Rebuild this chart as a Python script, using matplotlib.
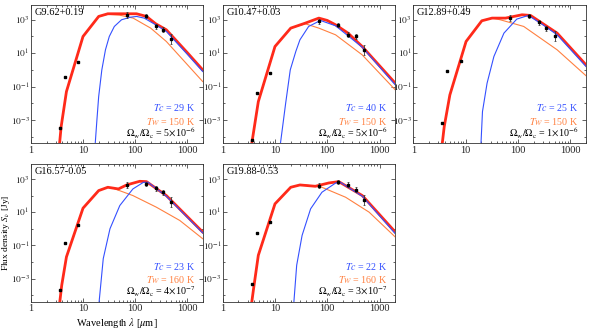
import matplotlib
matplotlib.use("Agg")
import matplotlib.pyplot as plt
import numpy as np
from matplotlib.ticker import FixedLocator, FixedFormatter, LogLocator, NullFormatter

plt.rcParams['font.family'] = ['Liberation Serif', 'DejaVu Serif']
plt.rcParams['mathtext.fontset'] = 'stix'

# Sources and fit parameters
names = ["G9.62+0.19", "G10.47+0.03", "G12.89+0.49", "G16.57-0.05", "G19.88-0.53"]
t_cold = [29, 40, 25, 23, 22]
t_warm = [150, 150, 150, 160, 160]
ratio_mant = [5, 5, 1, 4, 3]
ratio_exp = [-6, -6, -6, -7, -7]

# Observed photometry (wavelength in um, log10 flux in Jy)
obs_lam = [3.6, 4.5, 8.0, 70, 160, 250, 350, 500]
obs_err = [0.05, 0.05, 0.05, 0.17, 0.12, 0.15, 0.15, 0.3]  # dex
obs_log = [
    [-3.46, -0.44, 0.46, 3.3, 3.24, 2.6, 2.4, 1.84],
    [-4.2, -1.36, -0.16, 2.9, 2.7, 2.1, 2.0, 1.2],
    [-3.16, -0.06, 0.54, 3.1, 3.2, 2.84, 2.5, 2.04],
    [-3.7, -0.84, 0.24, 2.64, 2.7, 2.44, 2.2, 1.6],
    [-3.36, -0.24, 0.4, 2.6, 2.84, 2.64, 2.36, 1.76],
]

# Total model (red)
tot_lam = [
    [3.4, 3.8, 4.8, 10, 20, 30, 60, 107, 166, 250, 400, 1000, 2000],
    [3.4, 4.8, 10, 20, 38, 69, 100, 144, 250, 465, 2000],
    [3.4, 3.9, 5.0, 10.2, 20.4, 32, 58, 120, 174, 562, 2000],
    [3.4, 3.9, 4.8, 10, 20, 30, 48, 69, 123, 166, 400, 2000],
    [3.4, 3.9, 4.8, 10, 20, 30, 59, 107, 166, 468, 2000],
]
tot_log = [
    [-5.0, -3.4, -1.3, 2.0, 3.2, 3.36, 3.36, 3.36, 3.2, 2.76, 2.4, 1.05, 0.0],
    [-4.9, -1.9, 1.4, 2.5, 2.8, 3.1, 2.96, 2.7, 2.2, 1.4, -0.8],
    [-5.0, -3.4, -1.5, 1.7, 2.94, 3.1, 3.1, 3.3, 3.26, 2.2, 0.3],
    [-5.0, -3.4, -1.7, 1.24, 2.3, 2.5, 2.4, 2.64, 2.86, 2.84, 2.0, -0.2],
    [-5.0, -3.6, -1.6, 1.5, 2.5, 2.64, 2.56, 2.76, 2.84, 2.0, -0.2],
]

# Cold component (blue)
cold_lam = [
    [17, 18.5, 20, 23, 27, 32, 40, 55, 80, 107, 150, 250, 400, 1000, 2000],
    [12.6, 14, 16, 19.6, 25, 30, 44, 74, 144, 465, 2000],
    [19.6, 21, 25.7, 34.7, 54, 95, 158, 300, 562, 2000],
    [20.4, 24.5, 33, 51, 91, 145, 178, 400, 2000],
    [23, 26, 33, 48, 79, 145, 178, 468, 2000],
]
cold_log = [
    [-4.6, -3.0, -1.6, 0.0, 1.2, 2.0, 2.6, 3.0, 3.15, 3.2, 3.1, 2.7, 2.3, 0.95, -0.1],
    [-4.5, -3.4, -2.0, 0.0, 1.1, 1.8, 2.6, 2.96, 2.64, 1.36, -0.9],
    [-4.5, -2.5, -0.8, 0.8, 2.2, 3.04, 3.26, 2.7, 2.1, 0.2],
    [-4.4, -1.8, 0.0, 1.4, 2.4, 2.8, 2.8, 1.96, -0.25],
    [-4.4, -2.2, -0.4, 1.2, 2.2, 2.76, 2.8, 1.96, -0.3],
]

# Warm component (orange)
warm_lam = [
    [3.4, 3.8, 4.8, 10, 20, 30, 50, 92, 200, 400, 2000],
    [3.4, 4.8, 10, 20, 38, 69, 144, 465, 2000],
    [3.4, 3.9, 5.0, 10.2, 20.4, 32, 46, 129, 562, 2000],
    [3.4, 3.9, 4.8, 10, 20, 30, 38, 91, 257, 724, 2000],
    [3.4, 3.9, 4.8, 10, 20, 30, 38, 79, 224, 631, 2000],
]
warm_log = [
    [-5.0, -3.4, -1.3, 2.0, 3.2, 3.33, 3.28, 3.1, 2.5, 1.7, -0.7],
    [-4.9, -1.9, 1.4, 2.5, 2.76, 2.5, 2.1, 0.9, -1.2],
    [-5.0, -3.4, -1.5, 1.7, 2.94, 3.1, 3.0, 2.6, 1.2, -0.35],
    [-5.0, -3.4, -1.7, 1.24, 2.3, 2.5, 2.44, 2.0, 1.3, 0.5, -0.6],
    [-5.0, -3.6, -1.6, 1.5, 2.5, 2.64, 2.64, 2.5, 1.9, 1.0, -0.5],
]

RED = '#ff2a1a'
BLUE = '#3450ff'
ORANGE = '#ff8040'

W, H = 590, 333
fig = plt.figure(figsize=(W / 100, H / 100), dpi=100)

# panel boxes in pixels: left, top, right, bottom
boxes = [
    (31, 4.7, 202.7, 143.3),
    (222.7, 4.7, 395.3, 143.3),
    (413.3, 4.7, 586, 143.3),
    (31, 164, 202.7, 301.7),
    (222.7, 164, 395.3, 301.7),
]

for i, (l, t, r, b) in enumerate(boxes):
    ax = fig.add_axes([l / W, 1 - b / H, (r - l) / W, (b - t) / H])
    ax.set_xscale('log')
    ax.set_yscale('log')

    ax.plot(warm_lam[i], 10 ** np.array(warm_log[i]), color=ORANGE, lw=0.8, zorder=2)
    ax.plot(tot_lam[i], 10 ** np.array(tot_log[i]), color=RED, lw=2.0, zorder=3)
    ax.plot(cold_lam[i], 10 ** np.array(cold_log[i]), color=BLUE, lw=0.8, zorder=4)

    y = 10 ** np.array(obs_log[i])
    e = np.array(obs_err)
    ax.errorbar(obs_lam, y, yerr=[y - y * 10 ** -e, y * 10 ** e - y], fmt='s', ms=1.5,
                color='black', ecolor='#333333', elinewidth=0.6, capsize=1, capthick=0.5, zorder=5)

    ax.set_xlim(1, 2000)
    ax.set_ylim(4e-5, 8e3)

    ax.xaxis.set_major_locator(FixedLocator([1, 10, 100, 1000]))
    ax.xaxis.set_major_formatter(FixedFormatter(['1', '10', '100', '1000']))
    ax.xaxis.set_minor_locator(LogLocator(base=10, subs=np.arange(2, 10), numticks=20))
    ax.xaxis.set_minor_formatter(NullFormatter())
    ax.yaxis.set_major_locator(FixedLocator([1e-3, 1e-1, 1e1, 1e3]))
    ax.yaxis.set_major_formatter(FixedFormatter([r'$10^{-3}$', r'$10^{-1}$', r'$10^{1}$', r'$10^{3}$']))
    ax.yaxis.set_minor_locator(FixedLocator([1e-4, 1e-2, 1, 1e2]))
    ax.yaxis.set_minor_formatter(NullFormatter())

    ax.tick_params(which='both', direction='in', top=True, right=True, labelsize=7.5,
                   width=0.5, colors='#222222', pad=2)
    ax.tick_params(axis='y', labelsize=6.8, pad=1)
    ax.tick_params(which='major', length=3)
    ax.tick_params(which='minor', length=1.5)
    for s in ax.spines.values():
        s.set_linewidth(0.6)
        s.set_color('#333333')

    ax.text(0.02, 0.975, names[i], transform=ax.transAxes, ha='left', va='top', fontsize=7.5)
    ax.text(0.955, 0.255, r'$Tc$ = %d K' % t_cold[i], transform=ax.transAxes,
            ha='right', va='center', fontsize=7.2, color=BLUE)
    ax.text(0.955, 0.16, r'$Tw$ = %d K' % t_warm[i], transform=ax.transAxes,
            ha='right', va='center', fontsize=7.2, color=ORANGE)
    ax.text(0.955, 0.072, r'$\Omega_{\rm w}/\Omega_{\rm c}$ = %d$\times$10$^{%d}$' % (ratio_mant[i], ratio_exp[i]),
            transform=ax.transAxes, ha='right', va='center', fontsize=7.2, color='black')

    if i == 3:
        ax.set_xlabel(r'Wavelength $\lambda$ [$\mu$m]', fontsize=7.5, labelpad=2)
        ax.set_ylabel(r'Flux density $S_\nu$ [Jy]', fontsize=6.8)
        ax.yaxis.set_label_coords(-0.112, 0.5)

fig.savefig('out.png', dpi=100)
